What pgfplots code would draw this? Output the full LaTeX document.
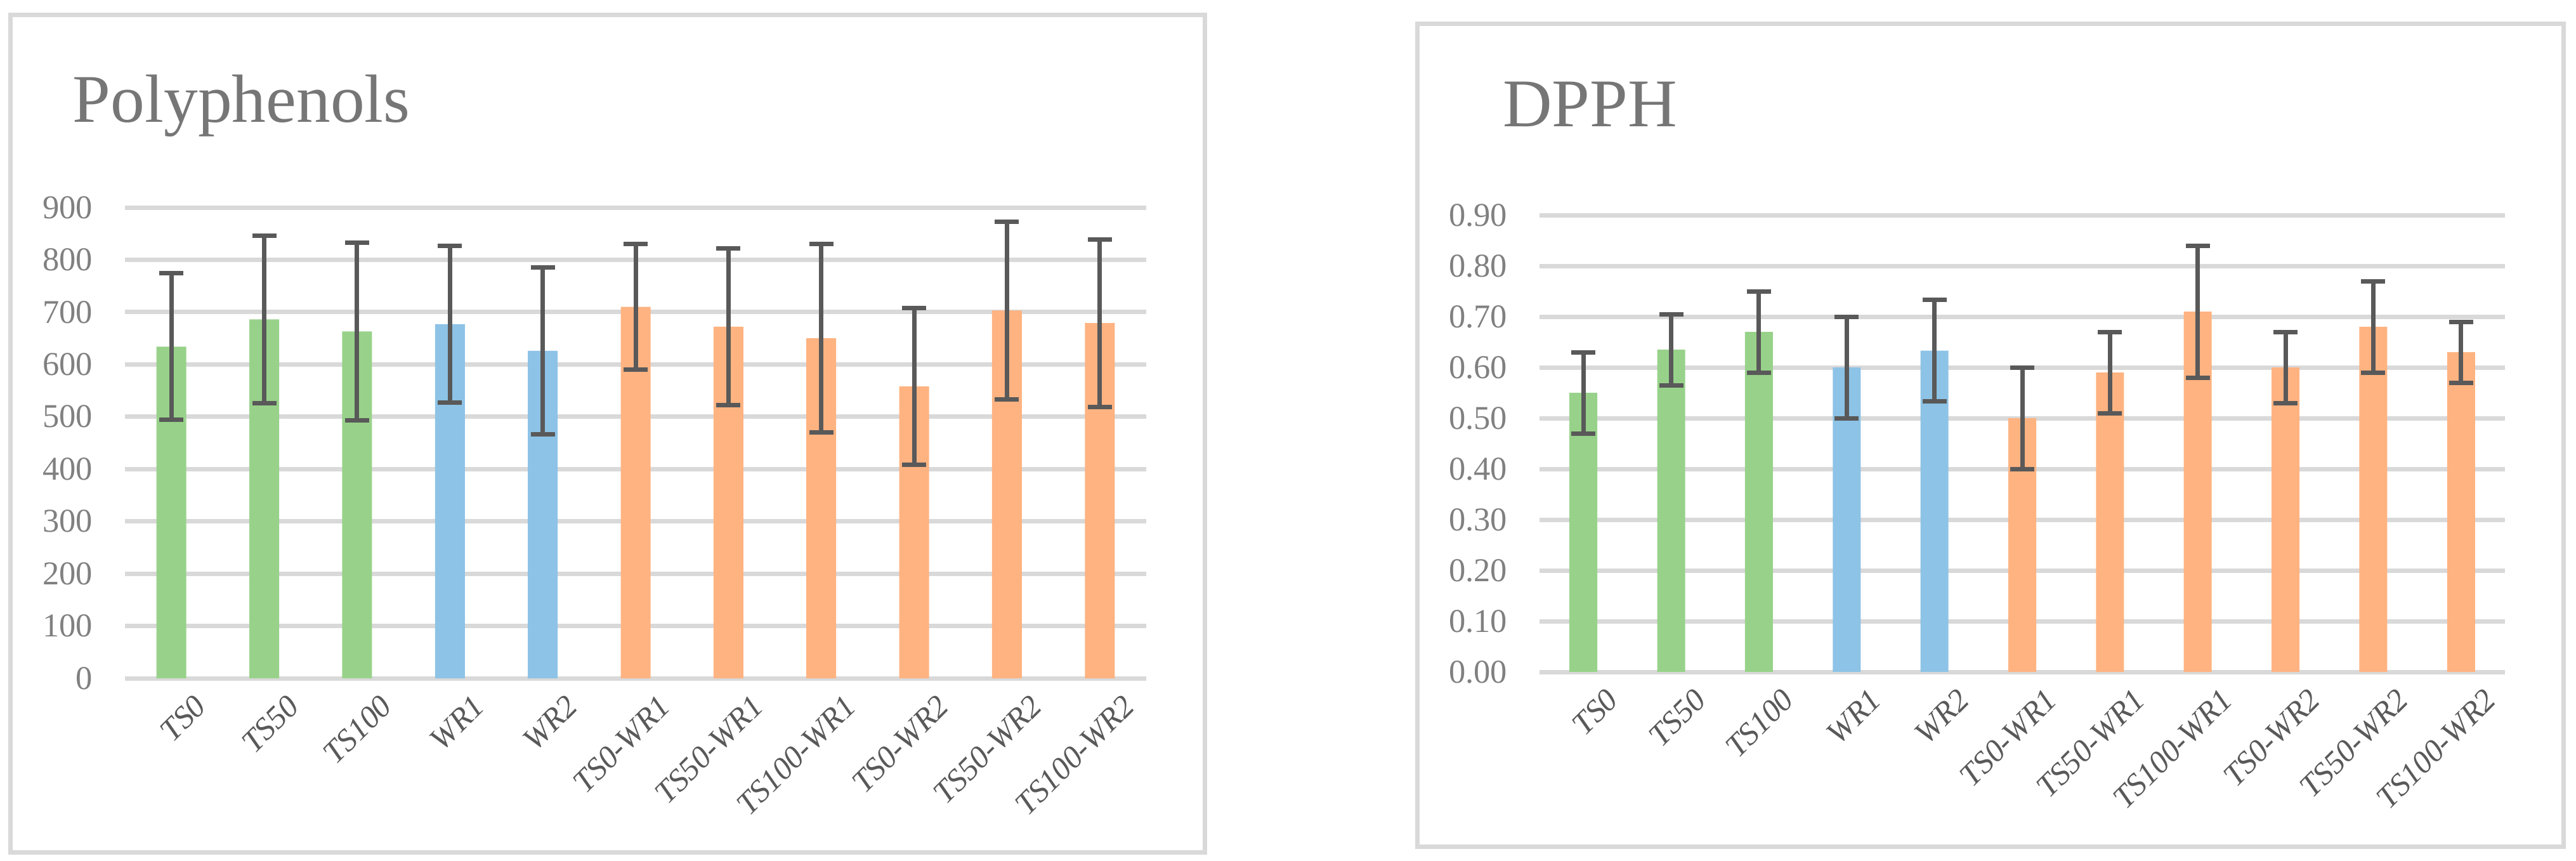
\documentclass[border=0pt]{standalone}
\usepackage{pgfplots}
\pgfplotsset{compat=1.18}
\usepackage{fontspec}
\setmainfont{Liberation Serif}
\definecolor{cgreen}{HTML}{98D28A}
\definecolor{cblue}{HTML}{8DC3E6}
\definecolor{corange}{HTML}{FFB381}
\definecolor{cgrid}{HTML}{D9D9D9}
\definecolor{errc}{HTML}{595959}
\definecolor{ticktext}{HTML}{808080}
\definecolor{titletext}{HTML}{767676}
\pgfplotsset{
  panel/.style={
    scale only axis, anchor=south west, clip=false,
    xmin=-0.5, xmax=10.5, ymin=0,
    axis line style={draw=none}, major tick style={draw=none},
    ymajorgrids, grid style={cgrid, line width=1.4pt},
    xtick={0,1,2,3,4,5,6,7,8,9,10},
    xticklabels={TS0,TS50,TS100,WR1,WR2,TS0-WR1,TS50-WR1,TS100-WR1,TS0-WR2,TS50-WR2,TS100-WR2},
    xticklabel style={rotate=45, anchor=north east, inner sep=0pt, yshift=-8pt, xshift=1.6pt,
      font=\fontsize{10}{11}\selectfont\itshape, text=errc},
    yticklabel style={inner sep=0pt, xshift=-10pt, font=\fontsize{10.5}{12}\selectfont, text=ticktext},
    /pgf/number format/assume math mode=true,
  },
  bars/.style={ybar, bar shift=0pt, draw=none, fill=#1,
    error bars/.cd, y dir=both, y explicit,
    error bar style={line width=1.4pt, errc},
    error mark options={rotate=90, line width=1.4pt, errc, mark size=3.8pt},
    /pgfplots/.cd},
}
\begin{document}
\begin{tikzpicture}
\useasboundingbox (0,0) rectangle (812.2pt,271.2pt);
\draw[cgrid, line width=1.4pt] (3.2pt,2.6pt) rectangle (379.8pt,266.4pt);
\draw[cgrid, line width=1.4pt] (446.8pt,4.4pt) rectangle (808.2pt,263.6pt);
\node[anchor=base west, inner sep=0pt, text=titletext, font=\fontsize{21.5}{24}\selectfont] at (22.8pt,232.8pt) {Polyphenols};
\node[anchor=base west, inner sep=0pt, text=titletext, font=\fontsize{21.5}{24}\selectfont] at (473.6pt,231.4pt) {DPPH};
\begin{axis}[panel, at={(39.4pt,57.4pt)}, width=322pt, height=148.4pt, ymax=900,
  ytick={0,100,200,300,400,500,600,700,800,900}]
\addplot[bar width=9.4pt, bars=cgreen] coordinates {(0,634) +- (0,140) (1,686) +- (0,160) (2,663) +- (0,170)};
\addplot[bar width=9.4pt, bars=cblue] coordinates {(3,677) +- (0,150) (4,626) +- (0,160)};
\addplot[bar width=9.4pt, bars=corange] coordinates {(5,710) +- (0,120) (6,672) +- (0,150) (7,650) +- (0,180) (8,558) +- (0,150) (9,703) +- (0,170) (10,679) +- (0,160)};
\end{axis}
\begin{axis}[panel, at={(485.4pt,59.4pt)}, width=304.4pt, height=144pt, ymax=0.9,
  ytick={0,0.1,0.2,0.3,0.4,0.5,0.6,0.7,0.8,0.9},
  yticklabel style={/pgf/number format/.cd, fixed, fixed zerofill, precision=2}]
\addplot[bar width=8.8pt, bars=cgreen] coordinates {(0,0.55) +- (0,0.08) (1,0.635) +- (0,0.07) (2,0.67) +- (0,0.08)};
\addplot[bar width=8.8pt, bars=cblue] coordinates {(3,0.60) +- (0,0.10) (4,0.633) +- (0,0.10)};
\addplot[bar width=8.8pt, bars=corange] coordinates {(5,0.50) +- (0,0.10) (6,0.59) +- (0,0.08) (7,0.71) +- (0,0.13) (8,0.60) +- (0,0.07) (9,0.68) +- (0,0.09) (10,0.63) +- (0,0.06)};
\end{axis}
\end{tikzpicture}
\end{document}
